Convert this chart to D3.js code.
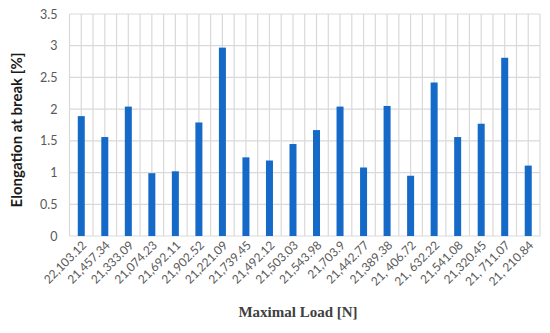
<!DOCTYPE html>
<html><head><meta charset="utf-8">
<script src="https://cdn.jsdelivr.net/npm/d3@7"></script>
<style>body{margin:0;background:#fff}svg{display:block}</style>
</head><body>
<svg id="c" width="550" height="333"></svg>
<script>
const categories = ["22,103.12","21,457.34","21,333.09","21,074.23","21,692.11","21,902.52","21,221.09","21,739.45","21,492.12","21,503.03","21,543.98","21,703.9","21,442.77","21,389.38","21, 406.72","21, 632.22","21,541.08","21,320.45","21, 711.07","21, 210.84"];
const elongation = [1.89,1.56,2.04,0.99,1.02,1.79,2.97,1.24,1.19,1.45,1.67,2.04,1.08,2.05,0.95,2.42,1.56,1.77,2.81,1.11];
const yTicks = [0,0.5,1,1.5,2,2.5,3,3.5];
const yTitle = "Elongation at break [%]";
const xTitle = "Maximal Load [N]";

const svg = d3.select("#c");
const L = 69.5, R = 540, T = 14, B = 236;
const x = d3.scaleBand().domain(categories).range([L, R]).paddingInner(0.7).paddingOuter(0.35);
const xb = d3.scaleBand().domain(categories).range([L, R]);
const y = d3.scaleLinear().domain([0, 3.5]).range([B, T]);
const grid = "#d9d9d9";

// horizontal gridlines
svg.append("g").selectAll("line").data(yTicks).join("line")
  .attr("x1", L).attr("x2", R).attr("y1", d => y(d)).attr("y2", d => y(d))
  .attr("stroke", grid).attr("stroke-width", 1.2);
// vertical gridlines at boundaries and centers
const vx = [];
categories.forEach(c => { vx.push(xb(c)); vx.push(xb(c) + xb.bandwidth() / 2); });
vx.push(R);
svg.append("g").selectAll("line").data(vx).join("line")
  .attr("x1", d => d).attr("x2", d => d).attr("y1", T).attr("y2", B)
  .attr("stroke", grid).attr("stroke-width", 1.2);

// bars
svg.append("g").selectAll("rect").data(elongation).join("rect")
  .attr("x", (d, i) => xb(categories[i]) + xb.bandwidth() / 2 - 3.5)
  .attr("width", 7)
  .attr("y", d => y(d)).attr("height", d => y(0) - y(d))
  .attr("fill", "#1569c7");

// y axis labels
const yAxis = d3.axisLeft(y).tickValues(yTicks).tickSize(0).tickPadding(0).tickFormat(d3.format("~g"));
const ga = svg.append("g").attr("transform", `translate(${L - 12},0)`).call(yAxis);
ga.select(".domain").remove();
ga.selectAll("text").attr("font-family", "Lato, 'Open Sans', sans-serif").attr("font-size", 12.5).attr("fill", "#595959");

// x axis labels
const xAxis = d3.axisBottom(xb).tickSize(0).tickPadding(0);
const gx = svg.append("g").attr("transform", `translate(0,${B})`).call(xAxis);
gx.select(".domain").remove();
gx.selectAll("text")
  .attr("font-family", "Lato, 'Open Sans', sans-serif").attr("font-size", 12).attr("fill", "#595959")
  .attr("text-anchor", "end").attr("dy", 0)
  .attr("transform", "translate(6,10) rotate(-45)");

// titles
svg.append("text").attr("transform", `translate(22,${(T + B) / 2 + 5}) rotate(-90)`)
  .attr("text-anchor", "middle").attr("font-family", "Lato, 'Open Sans', sans-serif")
  .attr("font-weight", "bold").attr("font-size", 15).attr("fill", "#1a1a1a").text(yTitle);
svg.append("text").attr("x", 298).attr("y", 317).attr("text-anchor", "middle")
  .attr("font-family", "'Liberation Serif', serif").attr("font-weight", "bold")
  .attr("font-size", 15).attr("fill", "#404040").text(xTitle);
</script>
</body></html>
